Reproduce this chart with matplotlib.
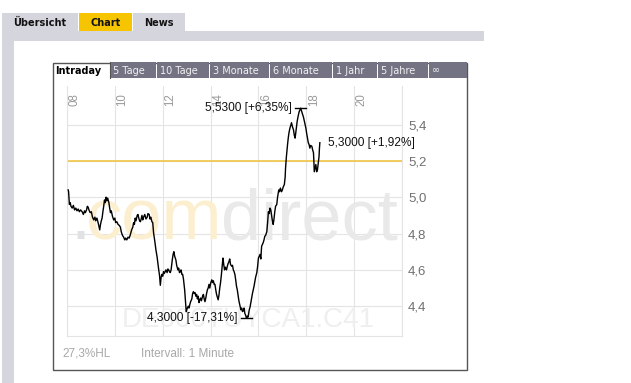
import matplotlib
matplotlib.use('Agg')
import matplotlib.pyplot as plt
from matplotlib.patches import Rectangle
import matplotlib.transforms as mtransforms

# ---------------- data ----------------
# (minute of day, price in EUR)
quotes = [
    (483, 5.04), (484, 5.03), (485, 4.99), (486, 4.96), (488, 4.97), (490, 4.95), (493, 4.94),
    (496, 4.955), (499, 4.93), (502, 4.94), (505, 4.925), (508, 4.935), (511, 4.92), (514, 4.93),
    (518, 4.92), (521, 4.905), (524, 4.925), (526, 4.915), (529, 4.93), (531, 4.95), (533, 4.945),
    (535, 4.93), (538, 4.915), (541, 4.92), (544, 4.89), (547, 4.875), (550, 4.89), (552, 4.87),
    (555, 4.885), (558, 4.86), (560, 4.84), (562, 4.82), (564, 4.85), (566, 4.87), (568, 4.885),
    (570, 4.92), (572, 4.95), (574, 4.985), (576, 4.97), (578, 5.00), (580, 4.98), (582, 4.995),
    (585, 4.97), (587, 4.94), (589, 4.915), (591, 4.925), (594, 4.895), (597, 4.875), (600, 4.885),
    (602, 4.86), (605, 4.865), (608, 4.85), (611, 4.845), (614, 4.835), (616, 4.81), (619, 4.79),
    (622, 4.78), (625, 4.765), (627, 4.775), (630, 4.765), (633, 4.78), (636, 4.775), (639, 4.795),
    (642, 4.82), (645, 4.835), (647, 4.86), (649, 4.85), (651, 4.885), (653, 4.87), (656, 4.90),
    (658, 4.905), (660, 4.885), (662, 4.87), (664, 4.865), (666, 4.88), (668, 4.90), (670, 4.875),
    (672, 4.89), (675, 4.905), (678, 4.88), (681, 4.89), (683, 4.91), (686, 4.905), (688, 4.88),
    (690, 4.89), (693, 4.865), (695, 4.86), (697, 4.805), (700, 4.76), (703, 4.71), (706, 4.67),
    (708, 4.635), (710, 4.60), (712, 4.57), (714, 4.515), (716, 4.56), (718, 4.575), (720, 4.565),
    (722, 4.59), (724, 4.58), (726, 4.59), (728, 4.60), (731, 4.585), (733, 4.605), (735, 4.60),
    (737, 4.59), (739, 4.585), (741, 4.60), (744, 4.655), (746, 4.685), (748, 4.70), (750, 4.675),
    (753, 4.655), (755, 4.625), (758, 4.60), (760, 4.61), (762, 4.585), (764, 4.59), (766, 4.60),
    (768, 4.575), (770, 4.575), (772, 4.55), (775, 4.49), (777, 4.43), (779, 4.37), (781, 4.385),
    (784, 4.40), (786, 4.39), (788, 4.41), (790, 4.425), (793, 4.44), (795, 4.47), (797, 4.48),
    (799, 4.47), (801, 4.475), (803, 4.455), (805, 4.465), (807, 4.44), (809, 4.455), (811, 4.42),
    (813, 4.435), (815, 4.445), (817, 4.43), (820, 4.455), (822, 4.465), (824, 4.44), (826, 4.425),
    (828, 4.445), (830, 4.47), (832, 4.49), (834, 4.50), (836, 4.52), (838, 4.50), (840, 4.525),
    (843, 4.545), (845, 4.53), (847, 4.54), (849, 4.52), (851, 4.52), (853, 4.49), (855, 4.465),
    (857, 4.45), (859, 4.435), (861, 4.46), (863, 4.50), (865, 4.53), (867, 4.57), (869, 4.62),
    (871, 4.665), (873, 4.63), (875, 4.60), (877, 4.615), (880, 4.60), (882, 4.62), (884, 4.635),
    (886, 4.645), (888, 4.66), (890, 4.63), (893, 4.62), (895, 4.625), (897, 4.60), (899, 4.59),
    (901, 4.575), (903, 4.545), (905, 4.51), (907, 4.49), (909, 4.46), (911, 4.43), (914, 4.40),
    (916, 4.38), (918, 4.39), (920, 4.37), (922, 4.375), (924, 4.39), (926, 4.36), (928, 4.35),
    (930, 4.335), (932, 4.345), (934, 4.34), (937, 4.38), (939, 4.395), (941, 4.42), (943, 4.445),
    (945, 4.47), (947, 4.49), (949, 4.51), (951, 4.535), (953, 4.56), (956, 4.585), (958, 4.62),
    (960, 4.665), (962, 4.675), (964, 4.685), (966, 4.66), (968, 4.73), (970, 4.74), (972, 4.75),
    (974, 4.765), (976, 4.785), (978, 4.79), (981, 4.81), (983, 4.86), (985, 4.92), (987, 4.91),
    (989, 4.94), (991, 4.93), (993, 4.90), (995, 4.87), (997, 4.85), (999, 4.88), (1001, 4.92),
    (1003, 4.95), (1006, 4.96), (1008, 5.00), (1011, 5.04), (1013, 5.03), (1015, 5.05), (1018, 5.03),
    (1020, 5.04), (1022, 5.055), (1025, 5.07), (1027, 5.11), (1028, 5.16), (1030, 5.22), (1033, 5.29),
    (1035, 5.33), (1037, 5.36), (1039, 5.38), (1041, 5.395), (1043, 5.41), (1045, 5.39), (1048, 5.37),
    (1050, 5.34), (1052, 5.325), (1054, 5.36), (1057, 5.415), (1059, 5.44), (1062, 5.47), (1064, 5.48),
    (1066, 5.49), (1068, 5.475), (1071, 5.455), (1073, 5.44), (1075, 5.42), (1077, 5.40), (1079, 5.38),
    (1081, 5.35), (1083, 5.325), (1085, 5.30), (1087, 5.29), (1089, 5.27), (1091, 5.285), (1094, 5.28),
    (1096, 5.26), (1098, 5.245), (1099, 5.20), (1100, 5.14), (1102, 5.16), (1104, 5.18), (1106, 5.14),
    (1108, 5.15), (1110, 5.19), (1112, 5.225), (1113, 5.27), (1114, 5.30),
]
prev_close = 5.20
hi_label = "5,5300 [+6,35%]"
lo_label = "4,3000 [-17,31%]"
last_label = "5,3000 [+1,92%]"
x_ticks_h = [8, 10, 12, 14, 16, 18, 20, 22]
x_tick_labels = ["08", "10", "12", "14", "16", "18", "20", ""]
y_ticks = [4.4, 4.6, 4.8, 5.0, 5.2, 5.4]
y_tick_labels = ["4,4", "4,6", "4,8", "5,0", "5,2", "5,4"]
top_tabs = ["Übersicht", "Chart", "News"]
range_tabs = ["Intraday", "5 Tage", "10 Tage", "3 Monate", "6 Monate", "1 Jahr", "5 Jahre", "∞"]
footer_left = "27,3%HL"
footer_right = "Intervall: 1 Minute"
isin_mark = "DE000TUYCA1.C41"

times = [q[0] for q in quotes]
prices = [q[1] for q in quotes]

# ---------------- figure ----------------
W, H = 631, 383
fig = plt.figure(figsize=(W / 100, H / 100), dpi=100)
fig.patch.set_facecolor('white')
bg = fig.add_axes([0, 0, 1, 1])
bg.set_xlim(0, W)
bg.set_ylim(H, 0)
bg.axis('off')

tab_gray = '#D5D5DD'
tab_yellow = '#F7C500'
tab_x = [(2, 78), (79, 132), (133, 185)]
for lab, (x0, x1) in zip(top_tabs, tab_x):
    c = tab_yellow if lab == "Chart" else tab_gray
    bg.add_patch(Rectangle((x0, 13), x1 - x0, 18, facecolor=c, lw=0))
    bg.text((x0 + x1) / 2, 22.5, lab, ha='center', va='center', fontsize=7,
            fontweight='bold', family='DejaVu Sans', color='#111111')
bg.add_patch(Rectangle((2, 31), 482, 10, facecolor=tab_gray, lw=0))
bg.add_patch(Rectangle((2, 31), 12, 352, facecolor=tab_gray, lw=0))

# chart box
bg.add_patch(Rectangle((52.5, 62.5), 414.5, 307.5, fill=False, ec='#555555', lw=1.0))
rt_x = [(52, 109), (110, 156), (157, 209), (210, 269), (270, 332), (333, 377), (378, 428), (429, 467)]
for lab, (x0, x1) in zip(range_tabs, rt_x):
    if lab == "Intraday":
        bg.text(x0 + 3, 70.5, lab, ha='left', va='center', fontsize=7, fontweight='bold',
                family='DejaVu Sans', color='#000000')
    else:
        bg.add_patch(Rectangle((x0, 62), x1 - x0, 16, facecolor='#737384', lw=0))
        bg.text(x0 + 3, 70.5, lab, ha='left', va='center', fontsize=7,
                family='DejaVu Sans', color='#F2F2F2')
bg.plot([109.5, 109.5], [62, 78], color='#555555', lw=0.8)

bg.text(62, 354, footer_left, ha='left', va='center', fontsize=8.5,
        family='Liberation Sans', color='#A8A8A8')
bg.text(141, 354, footer_right, ha='left', va='center', fontsize=8.5,
        family='Liberation Sans', color='#A8A8A8')

# ---------------- plot axes ----------------
L, R, T, B = 67, 402, 86, 336
ax = fig.add_axes([L / W, (H - B) / H, (R - L) / W, (B - T) / H])
ax.set_facecolor('none')
xh = [t / 60 for t in times]
ax.set_xlim(8, 22)
ax.set_ylim(4.236, 5.612)
ax.set_xticks(x_ticks_h)
ax.set_xticklabels([])
ax.set_yticks(y_ticks)
ax.yaxis.tick_right()
ax.set_yticklabels(y_tick_labels, fontsize=9.5, family='Liberation Sans', color='#707070')
for lbl in ax.get_yticklabels():
    lbl.set_transform(lbl.get_transform() + mtransforms.ScaledTranslation(0, 1 / 100, fig.dpi_scale_trans))
ax.tick_params(length=0, axis='y', pad=4.3)
ax.tick_params(length=0, axis='x')
ax.grid(True, color='#E4E4E4', lw=0.8)
ax.set_axisbelow(True)
for s in ['left', 'bottom', 'right']:
    ax.spines[s].set_color('#E4E4E4')
    ax.spines[s].set_linewidth(0.8)
ax.spines['top'].set_visible(False)

trans = mtransforms.blended_transform_factory(ax.transData, ax.transAxes)
for h, lab in zip(x_ticks_h, x_tick_labels):
    if lab:
        ax.text(h, 1.0, lab,
                transform=trans + mtransforms.ScaledTranslation(1.5 / 100, -7 / 100, fig.dpi_scale_trans),
                rotation=90, ha='left', va='top', fontsize=8.3, family='Liberation Sans',
                color='#9A9A9A')

# watermark
ax.text(70, 239, ".", transform=bg.transData, fontsize=52, family='Liberation Sans',
        color='#E2E2E6', ha='left', va='baseline', zorder=1)
ax.text(86, 239, "com", transform=bg.transData, fontsize=52, family='Liberation Sans',
        color='#FCEFCF', ha='left', va='baseline', zorder=1)
ax.text(221, 239, "direct", transform=bg.transData, fontsize=52, family='Liberation Sans',
        color='#E9E9E9', ha='left', va='baseline', zorder=1)
ax.text(122, 327, isin_mark, transform=bg.transData, fontsize=20, family='Liberation Sans',
        color='#EFEFEF', ha='left', va='baseline', zorder=1)

ax.axhline(prev_close, color='#F0C545', lw=1.2, zorder=2)
ax.plot(xh, prices, color='black', lw=1.0, zorder=3)

imax = prices.index(max(prices))
imin = prices.index(min(prices))
for i, lab in [(imax, hi_label), (imin, lo_label)]:
    xm, ym = xh[i], prices[i]
    ax.plot([xm - 5.5 / 23.93, xm + 5.5 / 23.93], [ym, ym], color='black', lw=1.0, zorder=3)
    ax.annotate(lab, (xm, ym), xytext=(-8.5, 0), textcoords='offset pixels',
                ha='right', va='center', fontsize=8.6, family='Liberation Sans', color='#111111')
ax.annotate(last_label, (xh[-1], prices[-1]), xytext=(8, 0), textcoords='offset pixels',
            ha='left', va='center', fontsize=8.6, family='Liberation Sans', color='#111111')

fig.savefig('out.png', dpi=100)
